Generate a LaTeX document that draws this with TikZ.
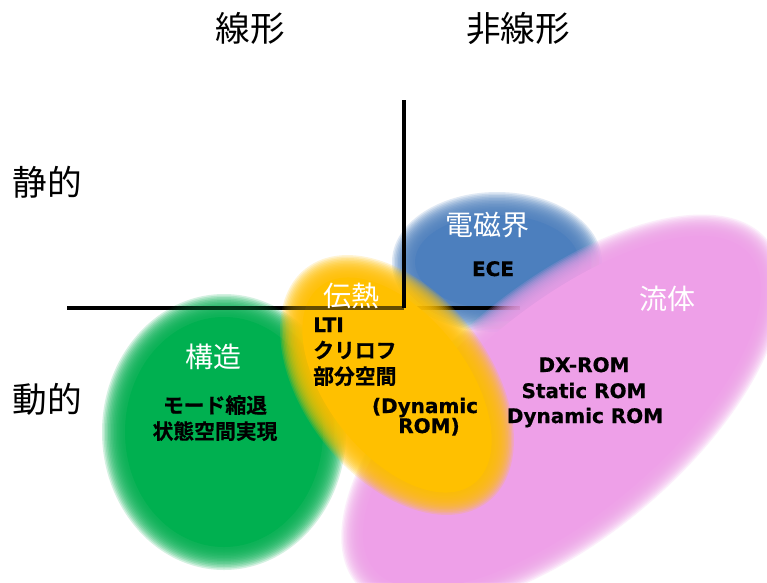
\documentclass[tikz,border=0pt]{standalone}
\usepackage{fontspec}
\setmainfont{DejaVu Sans}
\newfontfamily\jp{Noto Sans CJK JP}
\newfontfamily\jpb{Noto Sans CJK JP Bold}[FakeBold=0.6]
\newfontfamily\vb{DejaVu Sans Bold}[FakeBold=0.6]
\definecolor{cgreen}{RGB}{0,176,80}
\definecolor{cyellow}{RGB}{255,192,0}
\definecolor{cblue}{RGB}{76,127,190}
\definecolor{cpink}{RGB}{238,160,232}
\newcommand\softblob[5]{%
  \foreach \d in {12,10.5,...,-10}{%
    \fill[#5,opacity=0.17,rotate around={#4:#1}] #1 ellipse [x radius=#2+\d, y radius=#3+\d];}%
  \fill[#5,rotate around={#4:#1}] #1 ellipse [x radius=#2-11, y radius=#3-11];}
\tikzset{
  axis/.style={line width=2.4pt, black},
  title/.style={inner sep=0pt, font=\jp\fontsize{26}{30}\selectfont},
  wlabel/.style={inner sep=0pt, text=white, font=\jp\fontsize{21}{25}\selectfont},
  blabel/.style={inner sep=0pt, anchor=base, font=\vb\fontsize{15}{18}\selectfont},
  jlabel/.style={inner sep=0pt, anchor=base, font=\jpb\fontsize{15.6}{18}\selectfont},
}
\begin{document}
\begin{tikzpicture}[x=0.75pt,y=-0.75pt]
\useasboundingbox[fill=white] (0,0) rectangle (767,582);
% blue blob
\softblob{(497,262)}{93}{58}{0}{cblue}
% axes (lower part)
\coordinate (h0) at (67,308);
\coordinate (o) at (404,308);
\coordinate (h1) at (520,308);
\coordinate (v0) at (404,100);
\draw[axis] (h0) -- (h1);
% pink blob
\softblob{(562,412)}{256}{114}{40}{cpink}
% green blob
\softblob{(224,432)}{110}{126}{0}{cgreen}
% yellow blob
\softblob{(397,385)}{136}{81}{-52}{cyellow}
% axes on top
\draw[axis] (v0) -- (o);
\draw[axis,opacity=0.6] (h0) -- (o);
% titles
\node[title] (lin) at (250,28) {線形};
\node[title] (nlin) at (518,28) {非線形};
\node[title] (stat) at (47,182) {静的};
\node[title] (dyn) at (47,399) {動的};
% electromagnetic
\node[wlabel] (em) at (487,225) {電磁界};
\node[blabel] (ece) at (493,276) {ECE};
% heat
\node[wlabel] (heat) at (351,296) {伝熱};
\node[blabel,anchor=base west] (lti) at (313,332) {LTI};
\node[jlabel,anchor=base west] (kry) at (313,358) {クリロフ};
\node[jlabel,anchor=base west] (sub) at (313,384) {部分空間};
\node[blabel] (dyn1) at (425,413) {(Dynamic};
\node[blabel] (dyn2) at (429,433) {ROM)};
% structure
\node[wlabel] (str) at (213,357) {構造};
\node[jlabel] (mode) at (215,413) {モード縮退};
\node[jlabel] (ssr) at (215,439) {状態空間実現};
% fluid
\node[wlabel] (fl) at (667,299) {流体};
\node[blabel] (dx) at (584,372) {DX-ROM};
\node[blabel] (sr) at (584,398) {Static ROM};
\node[blabel] (dr) at (585,423) {Dynamic ROM};
\end{tikzpicture}
\end{document}
